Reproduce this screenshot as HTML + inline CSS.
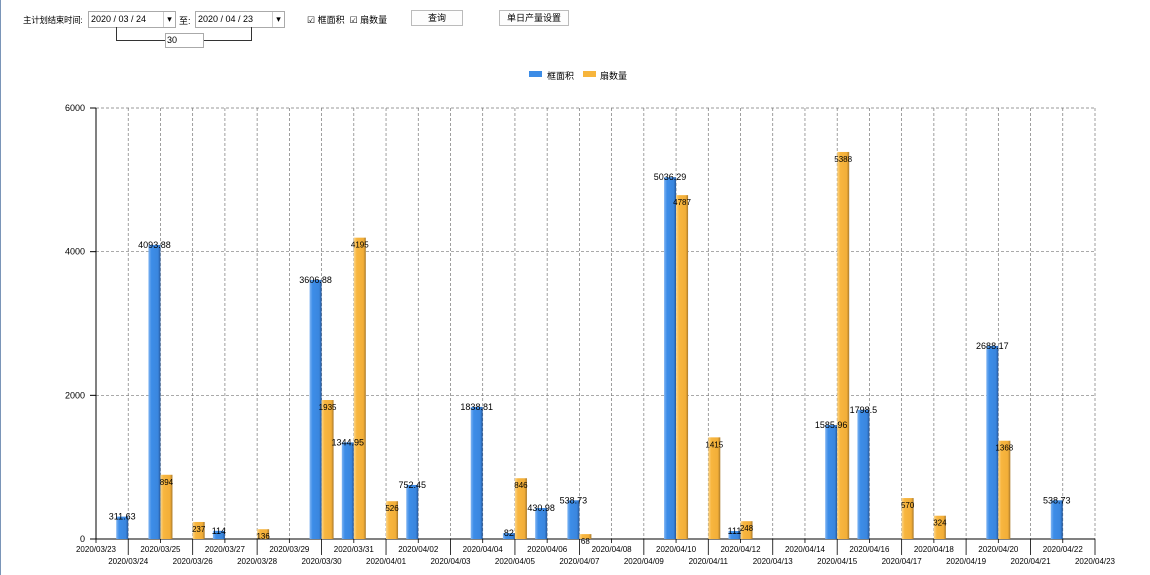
<!DOCTYPE html>
<html><head><meta charset="utf-8"><style>
body{margin:0;width:1150px;height:575px;background:#fff;position:relative;overflow:hidden;font-family:"Liberation Sans","Noto Sans CJK SC",sans-serif;font-size:9px;color:#000}
.a{position:absolute}
.box{position:absolute;border:1px solid #aaa;background:#fff;height:15px;line-height:15px;font-size:9px}
.btn{position:absolute;border:1px solid #bbb;background:#fdfdfd;height:14px;line-height:14px;text-align:center;font-size:9px}
</style></head><body>
<div class="a" style="left:0;top:0;width:1px;height:575px;background:#7a95b8"></div>
<div class="a" style="left:23px;top:14px;font-size:8.5px;letter-spacing:-0.3px">主计划结束时间:</div>
<div class="box" style="left:88px;top:11px;width:84px;padding-left:2px">2020 / 03 / 24<span style="position:absolute;right:0;top:0;width:11px;border-left:1px solid #ccc;text-align:center">▾</span></div>
<div class="a" style="left:179px;top:14px">至:</div>
<div class="box" style="left:195px;top:11px;width:86px;padding-left:2px">2020 / 04 / 23<span style="position:absolute;right:0;top:0;width:11px;border-left:1px solid #ccc;text-align:center">▾</span></div>
<div class="a" style="left:116px;top:27px;width:134px;height:13px;border:1px solid #333;border-top:none"></div>
<div class="box" style="left:165px;top:33px;width:36px;height:13px;line-height:13px;padding-left:1px">30</div>
<div class="a" style="left:307px;top:13px">☑ 框面积 &nbsp;☑ 扇数量</div>
<div class="btn" style="left:411px;top:10px;width:50px">查询</div>
<div class="btn" style="left:499px;top:10px;width:68px">单日产量设置</div>
<div class="a" style="left:529px;top:71px;width:13px;height:6px;background:#3c8ce6"></div>
<div class="a" style="left:547px;top:69px">框面积</div>
<div class="a" style="left:583px;top:71px;width:13px;height:6px;background:#f7b53c"></div>
<div class="a" style="left:600px;top:69px">扇数量</div>
<svg id="s" class="a" style="left:0;top:0" width="1150" height="575"></svg>
<script>
var s=document.getElementById('s'),h='',t='';
h+='<defs><linearGradient id="gb"><stop offset="0" stop-color="#7fb4f2"/><stop offset="0.25" stop-color="#3d8de8"/><stop offset="0.8" stop-color="#3a86de"/><stop offset="1" stop-color="#24569a"/></linearGradient><linearGradient id="go"><stop offset="0" stop-color="#fbd58a"/><stop offset="0.25" stop-color="#f8b63f"/><stop offset="0.8" stop-color="#f2ae38"/><stop offset="1" stop-color="#a8782a"/></linearGradient></defs>';
var x0=96,x1=1095,y0=539,yt=108,dx=(x1-x0)/31,k=(y0-yt)/6000;
function Y(v){return y0-v*k}
[2000,4000,6000].forEach(function(v){h+='<line x1="96" x2="1095" y1="'+Y(v)+'" y2="'+Y(v)+'" stroke="#777" stroke-dasharray="3,2" stroke-width="0.7"/>';});
var days=[23,24,25,26,27,28,29,30,31,1,2,3,4,5,6,7,8,9,10,11,12,13,14,15,16,17,18,19,20,21,22,23];
for(var i=0;i<=31;i++){var x=x0+i*dx;
 if(i>0)h+='<line x1="'+x+'" x2="'+x+'" y1="108" y2="539" stroke="#777" stroke-dasharray="3,2" stroke-width="0.7"/>';
 h+='<line x1="'+x+'" x2="'+x+'" y1="539" y2="'+(i%2?555:543)+'" stroke="#000" stroke-width="0.8"/>';
 var m=i<9?'03':'04',d=('0'+days[i]).slice(-2);
 h+='<text x="'+x+'" y="'+(i%2?564:552)+'" text-anchor="middle" font-size="8">2020/'+m+'/'+d+'</text>';}
h+='<line x1="96" x2="1095" y1="539" y2="539" stroke="#000"/><line x1="96" x2="96" y1="108" y2="539" stroke="#000"/>';
[0,2000,4000,6000].forEach(function(v){h+='<line x1="90" x2="96" y1="'+Y(v)+'" y2="'+Y(v)+'" stroke="#000"/><text x="85" y="'+(Y(v)+3)+'" text-anchor="end" font-size="9">'+v+'</text>';});
var data=[[1,311.63,0],[2,4093.88,894],[3,0,237],[4,114,0],[5,0,136],[7,3606.88,1935],[8,1344.95,4195],[9,0,526],[10,752.45,0],[12,1838.81,0],[13,82,846],[14,430.98,0],[15,538.73,68],[18,5036.29,4787],[19,0,1415],[20,111,248],[23,1585.96,5388],[24,1798.5,0],[25,0,570],[26,0,324],[28,2688.17,1368],[30,538.73,0]];
var w=12;
data.forEach(function(d){var x=x0+d[0]*dx;
 if(d[1]){var y=Y(d[1]);h+='<rect x="'+(x-w)+'" y="'+y+'" width="'+w+'" height="'+(y0-y)+'" fill="url(#gb)"/>';t+='<text x="'+(x-w/2)+'" y="'+(y+3)+'" text-anchor="middle" font-size="9">'+d[1]+'</text>';}
 if(d[2]){var y=Y(d[2]);h+='<rect x="'+x+'" y="'+y+'" width="'+w+'" height="'+(y0-y)+'" fill="url(#go)"/>';t+='<text x="'+(x+w/2)+'" y="'+(y+10)+'" text-anchor="middle" font-size="8">'+d[2]+'</text>';}
});
s.innerHTML=h+t;
</script>
</body></html>
